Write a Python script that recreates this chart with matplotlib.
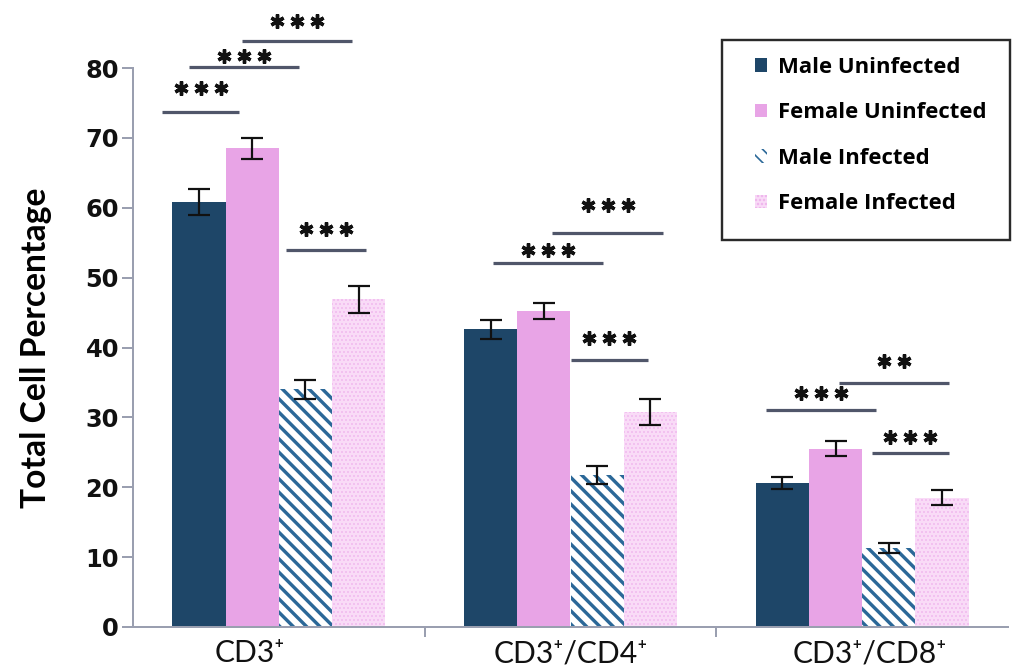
import matplotlib
matplotlib.use("Agg")
import matplotlib.pyplot as plt
import matplotlib.transforms as mtransforms
from matplotlib.patches import Rectangle
import numpy as np

DPI = 120
PT = 72.0 / DPI  # points per pixel

groups = ["CD3\u207a", "CD3\u207a/CD4\u207a", "CD3\u207a/CD8\u207a"]
series = ["Male Uninfected", "Female Uninfected", "Male Infected", "Female Infected"]

male_uninf = [60.8, 42.6, 20.6]
female_uninf = [68.5, 45.2, 25.5]
male_inf = [34.0, 21.8, 11.3]
female_inf = [46.9, 30.8, 18.5]

male_uninf_err = [1.9, 1.4, 0.8]
female_uninf_err = [1.5, 1.15, 1.05]
male_inf_err = [1.4, 1.3, 0.7]
female_inf_err = [1.9, 1.85, 1.05]

# significance bars: start, end, height of line, height of stars, label
sig_x0 = [-0.400, -0.307, -0.125, 0.026, 0.736, 0.938, 1.003, 1.672, 1.919, 2.033]
sig_x1 = [-0.136, 0.070, 0.252, 0.300, 1.110, 1.316, 1.264, 2.046, 2.297, 2.297]
sig_y = [73.7, 80.1, 83.9, 53.9, 52.1, 56.4, 38.2, 31.1, 34.9, 24.9]
sig_star_y = [77.1, 81.7, 86.7, 57.0, 54.0, 60.4, 41.4, 33.5, 38.1, 27.2]
sig_labels = ["***", "***", "***", "***", "***", "***", "***", "***", "**", "***"]

label_font = ["Lato", "DejaVu Sans"]

fig = plt.figure(figsize=(1013 / DPI, 665 / DPI), dpi=DPI)
ax = fig.add_axes([133 / 1013, 1 - 627 / 665, 875 / 1013, 559 / 665])

x = np.arange(len(groups))
w = 0.1825
styles = [
    dict(color="#1e4668"),
    dict(color="#e8a4e6"),
    dict(facecolor="white", edgecolor="#2b6898", hatch="\\\\\\"),
    dict(facecolor="#f9dbf7", edgecolor="#eeb2ec", hatch="....."),
]
hatch_lw = [1.0, 1.0, 3.4 * PT, 0.9 * PT]
values = [male_uninf, female_uninf, male_inf, female_inf]
errors = [male_uninf_err, female_uninf_err, male_inf_err, female_inf_err]

handles = []
for i, (vals, errs, st) in enumerate(zip(values, errors, styles)):
    pos = x + (i - 1.5) * w
    with plt.rc_context({"hatch.linewidth": hatch_lw[i]}):
        b = ax.bar(pos, vals, w, linewidth=0, label=series[i], **st)
        for p in b.patches:
            if hasattr(p, "set_hatch_linewidth"):
                p.set_hatch_linewidth(hatch_lw[i])
    handles.append(b)
    ax.errorbar(pos, vals, yerr=errs, fmt="none", ecolor="#111111",
                elinewidth=2.2 * PT, capsize=11 * PT, capthick=2.2 * PT)

# significance lines with asterisks
for x0, x1, yl, ys, lab in zip(sig_x0, sig_x1, sig_y, sig_star_y, sig_labels):
    ax.plot([x0, x1], [yl, yl], color="#50566a", lw=3.2 * PT,
            solid_capstyle="butt", clip_on=False)
    xc = (x0 + x1) / 2
    n = len(lab)
    for k in range(n):
        tr = mtransforms.offset_copy(ax.transData, fig=fig,
                                     x=(k - (n - 1) / 2) * 20 * PT, y=0, units="points")
        ax.plot(xc, ys, marker=(6, 2, 0), ms=14 * PT, mew=3.4 * PT,
                color="#111111", transform=tr, clip_on=False)

ax.set_xlim(-0.5, 2.5)
ax.set_ylim(0, 80)
ax.set_yticks(np.arange(0, 81, 10))
ax.set_xticks(x)
ax.set_xticklabels([])
ax.set_xticks([0.5, 1.5], minor=True)
ax.tick_params(axis="x", which="major", length=0)
ax.tick_params(axis="x", which="minor", length=10 * PT, width=2 * PT,
               color="#9a9fb0", direction="out")
ax.tick_params(axis="y", length=11 * PT, width=2 * PT, color="#9a9fb0",
               direction="out", pad=3 * PT)
for lbl in ax.get_yticklabels():
    lbl.set_fontweight("bold")
    lbl.set_fontsize(14.5)
    lbl.set_color("#111111")

# category names under the groups (nudged in pixels)
label_nudge = [-29, 0, 8]
for xi, name, dx in zip(x, groups, label_nudge):
    ax.annotate(name, xy=(xi, 0), xycoords=("data", "axes fraction"),
                xytext=(dx * PT, -35 * PT), textcoords="offset points",
                ha="center", va="baseline", family=label_font, fontsize=18,
                color="#111111", annotation_clip=False)

for s in ["top", "right"]:
    ax.spines[s].set_visible(False)
for s in ["left", "bottom"]:
    ax.spines[s].set_color("#9a9fb0")
    ax.spines[s].set_linewidth(2 * PT)

ax.set_ylabel("Total Cell Percentage", family=label_font, fontweight="bold",
              fontsize=20.2, labelpad=20)

# legend with a plain square frame
fig.patches.append(Rectangle((722 / 1013, 1 - 240 / 665), 288 / 1013, 200 / 665,
                             transform=fig.transFigure, fill=False,
                             edgecolor="#2a2a2a", lw=2.4 * PT))
fig.legend(handles=handles, loc="upper left",
           bbox_to_anchor=(755 / 1013, 1 - 57 / 665), frameon=False,
           prop=dict(family="Open Sans", weight="bold", size=13.3),
           handlelength=0.55, handleheight=0.55, handletextpad=0.5,
           labelspacing=1.1, borderpad=0, borderaxespad=0)

fig.savefig("out.png", dpi=DPI)
